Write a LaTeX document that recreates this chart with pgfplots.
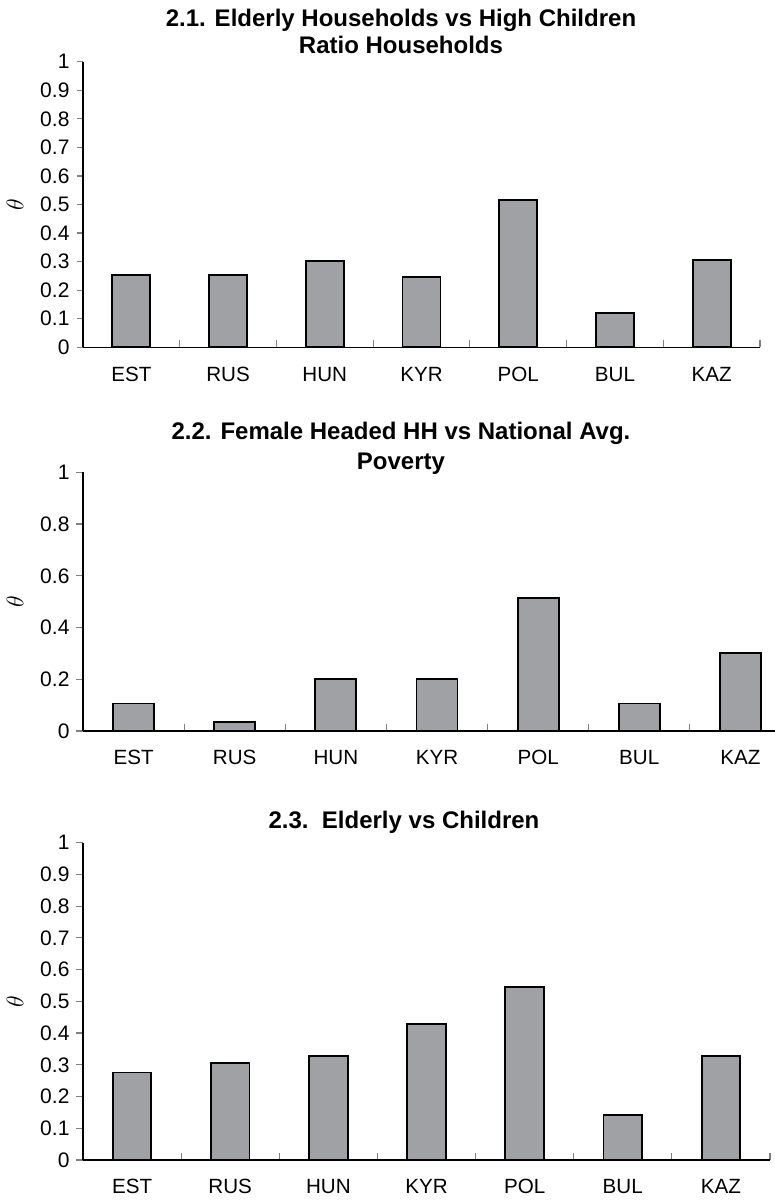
\documentclass[border=0pt]{standalone}
\usepackage{pgfplots}
\pgfplotsset{compat=1.18}
\usepackage{fontspec}
\setmainfont{Liberation Sans}

\definecolor{barfill}{RGB}{160,161,165}

\pgfplotsset{
  panel/.style={
    scale only axis,
    anchor=south west,
    axis x line=bottom,
    axis y line=left,
    axis line style={line width=0.6pt,-},
    xmin=-0.5, xmax=6.5, ymin=0, ymax=1,
    enlargelimits=false,
    xtick={0,...,6},
    xticklabels={EST,RUS,HUN,KYR,POL,BUL,KAZ},
    major x tick style={draw=none},
    minor xtick={0.5,1.5,...,6.5},
    minor x tick style={line width=0.6pt,yshift=3.5pt},
    minor tick length=3.5pt,
    major tick length=3.25pt,
    tick align=outside,
    ytick style={line width=0.6pt},
    ybar,
    /pgf/number format/assume math mode=true,
    tick label style={font=\fontsize{10.5}{12}\selectfont},
    xticklabel style={font=\fontsize{10.3}{12}\selectfont,yshift=-3pt},
    every axis y label/.style={at={(axis description cs:0,0.5)},xshift=-34pt,rotate=90,anchor=center,font=\fontsize{13}{14}\selectfont},
    ylabel={$\theta$},
  },
  bars/.style={draw=black,line width=0.9pt,fill=barfill},
}

\begin{document}
\begin{tikzpicture}
\useasboundingbox (0,0) rectangle (387.5pt,600pt);

% 2.1 Elderly households vs high children ratio households
\begin{axis}[panel, at={(41.5pt,426.35pt)}, width=338.5pt, height=142.8pt,
  bar width=19pt, ytick={0,0.1,...,1.0},
  yticklabels={0,0.1,0.2,0.3,0.4,0.5,0.6,0.7,0.8,0.9,1}]
\addplot[bars] coordinates {(0,0.252) (1,0.254) (2,0.303) (3,0.246) (4,0.515) (5,0.121) (6,0.305)};
\end{axis}

% 2.2 Female headed households vs national average poverty
\begin{axis}[panel, at={(41.5pt,234.5pt)}, width=354pt, height=129.35pt,
  bar width=20.5pt, ytick={0,0.2,0.4,0.6,0.8,1},
  yticklabels={0,0.2,0.4,0.6,0.8,1}]
\addplot[bars] coordinates {(0,0.106) (1,0.036) (2,0.202) (3,0.202) (4,0.514) (5,0.106) (6,0.303)};
\end{axis}

% 2.3 Elderly vs children
\begin{axis}[panel, at={(41.5pt,20pt)}, width=343.5pt, height=158.65pt,
  bar width=19.25pt, ytick={0,0.1,...,1.0},
  yticklabels={0,0.1,0.2,0.3,0.4,0.5,0.6,0.7,0.8,0.9,1}]
\addplot[bars] coordinates {(0,0.276) (1,0.305) (2,0.328) (3,0.429) (4,0.546) (5,0.141) (6,0.329)};
\end{axis}

\node[align=center,font=\bfseries\fontsize{12}{13.5}\selectfont] at (200.5pt,584.25pt)
  {2.1. Elderly Households vs High Children\\Ratio Households};
\node[align=center,font=\bfseries\fontsize{12}{15}\selectfont] at (200.5pt,376pt)
  {2.2. Female Headed HH vs National Avg.\\Poverty};
\node[align=center,font=\bfseries\fontsize{12}{13.5}\selectfont] at (202pt,189pt)
  {2.3.\ \ Elderly vs Children};
\end{tikzpicture}
\end{document}
